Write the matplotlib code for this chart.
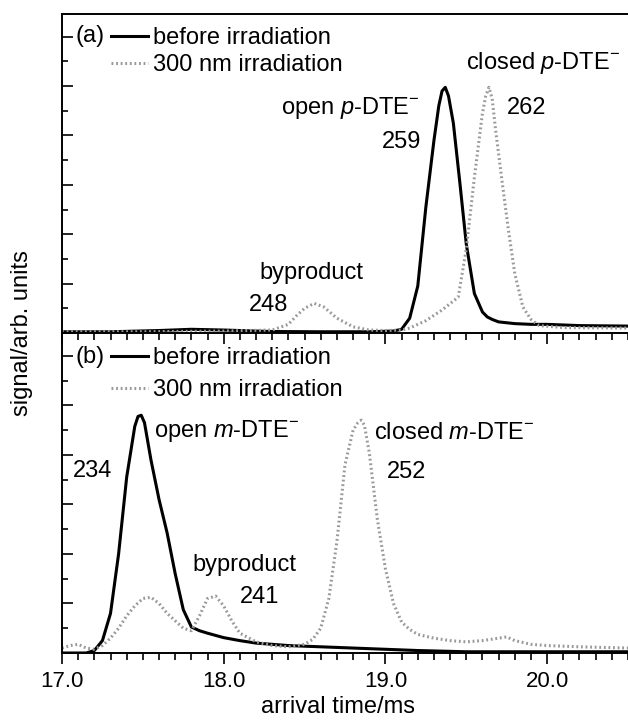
import matplotlib
matplotlib.use("Agg")
import matplotlib.pyplot as plt
from matplotlib.ticker import MultipleLocator, FormatStrFormatter

plt.rcParams['font.family'] = ['Liberation Sans', 'DejaVu Sans']
plt.rcParams['mathtext.fontset'] = 'custom'
plt.rcParams['mathtext.rm'] = 'Liberation Sans'
plt.rcParams['mathtext.it'] = 'Liberation Sans:italic'

FS = 17

# (a) p-DTE, before irradiation
t_pa = [17.0, 17.3, 17.6, 17.8, 18.0, 18.3, 18.6, 18.9, 19.05, 19.1, 19.15, 19.2, 19.25,
        19.3, 19.33, 19.35, 19.37, 19.39, 19.42, 19.46, 19.5, 19.55, 19.6, 19.63, 19.66,
        19.7, 19.8, 19.9, 20.0, 20.2, 20.5]
s_pa = [0.05, 0.05, 0.1, 0.15, 0.12, 0.06, 0.05, 0.05, 0.08, 0.15, 0.6, 1.9, 5.1,
        7.8, 9.2, 9.8, 9.95, 9.6, 8.5, 6.1, 3.6, 1.6, 0.85, 0.65, 0.55,
        0.45, 0.38, 0.35, 0.35, 0.3, 0.28]
# (a) p-DTE, 300 nm irradiation
t_pb = [17.0, 17.5, 18.0, 18.3, 18.4, 18.45, 18.5, 18.56, 18.62, 18.7, 18.8, 18.9, 19.0,
        19.1, 19.15, 19.25, 19.35, 19.45, 19.5, 19.55, 19.6, 19.62, 19.64, 19.66, 19.68,
        19.72, 19.76, 19.8, 19.85, 19.9, 19.95, 20.1, 20.5]
s_pb = [0.05, 0.05, 0.08, 0.12, 0.35, 0.7, 1.0, 1.2, 1.05, 0.6, 0.25, 0.12, 0.1,
        0.12, 0.2, 0.5, 0.93, 1.45, 3.4, 6.3, 8.9, 9.6, 9.95, 9.5, 8.3,
        6.2, 4.2, 2.4, 1.05, 0.55, 0.3, 0.22, 0.2]
# (b) m-DTE, before irradiation
t_ma = [17.0, 17.15, 17.2, 17.25, 17.3, 17.35, 17.4, 17.45, 17.47, 17.49, 17.51, 17.55, 17.6,
        17.65, 17.7, 17.75, 17.8, 17.85, 17.9, 18.0, 18.1, 18.2, 18.4, 18.6, 18.8,
        19.0, 19.2, 19.5, 20.5]
s_ma = [0.0, 0.0, 0.1, 0.5, 1.6, 4.0, 7.1, 9.15, 9.55, 9.6, 9.3, 7.8, 6.2,
        4.85, 3.2, 1.75, 1.05, 0.9, 0.8, 0.62, 0.5, 0.4, 0.3, 0.25, 0.2,
        0.15, 0.1, 0.05, 0.05]
# (b) m-DTE, 300 nm irradiation
t_mb = [17.0, 17.05, 17.1, 17.15, 17.2, 17.25, 17.3, 17.35, 17.4, 17.45, 17.5, 17.55, 17.6,
        17.65, 17.7, 17.75, 17.8, 17.85, 17.9, 17.95, 18.0, 18.05, 18.1, 18.2, 18.3,
        18.4, 18.5, 18.55, 18.6, 18.65, 18.7, 18.75, 18.8, 18.83, 18.85, 18.87, 18.9, 18.95,
        19.0, 19.05, 19.1, 19.15, 19.2, 19.3, 19.4, 19.5, 19.6, 19.7, 19.75, 19.8,
        19.9, 20.0, 20.2, 20.5]
s_mb = [0.2, 0.3, 0.35, 0.2, 0.15, 0.3, 0.6, 1.0, 1.5, 1.9, 2.2, 2.25, 2.0,
        1.6, 1.3, 1.0, 0.9, 1.5, 2.2, 2.3, 1.9, 1.3, 0.8, 0.45, 0.3,
        0.25, 0.35, 0.55, 1.0, 2.2, 4.5, 7.6, 9.0, 9.3, 9.4, 9.2, 8.1, 5.4,
        3.4, 2.0, 1.25, 0.95, 0.75, 0.6, 0.5, 0.45, 0.5, 0.6, 0.65, 0.5,
        0.35, 0.3, 0.25, 0.2]

legend_labels = ['before irradiation', '300 nm irradiation']

fig = plt.figure(figsize=(6.28, 7.23), dpi=100)
ax1 = fig.add_axes([62/628, 1-333/723, 1-62/628, 319/723])
ax2 = fig.add_axes([62/628, 1-653/723, 1-62/628, 320/723])
ax2.patch.set_alpha(0)

panels = [(ax1, t_pa, s_pa, t_pb, s_pb, '(a)', 0.958, 0.2, 0.931),
          (ax2, t_ma, s_ma, t_mb, s_mb, '(b)', 0.955, 0.42, 0.925)]
for ax, tb, sb, tg, sg, tag, ytop, lspace, ytag in panels:
    ax.plot(tb, sb, color='black', lw=2.2, label=legend_labels[0])
    ax.plot(tg, sg, color='#999999', lw=2.2, ls=(0, (0.6, 0.9)), label=legend_labels[1])
    ax.set_xlim(17.0, 20.5)
    ax.set_ylim(0, 12.92)
    ax.spines['right'].set_visible(False)
    for s in ['left', 'top', 'bottom']:
        ax.spines[s].set_linewidth(1.4)
    ax.xaxis.set_major_locator(MultipleLocator(1.0))
    ax.xaxis.set_minor_locator(MultipleLocator(0.1))
    ax.yaxis.set_major_locator(MultipleLocator(2))
    ax.yaxis.set_minor_locator(MultipleLocator(1))
    ax.tick_params(axis='x', which='both', direction='out', top=False, width=1.2)
    ax.tick_params(axis='x', which='major', length=8)
    ax.tick_params(axis='x', which='minor', length=5)
    ax.tick_params(axis='y', which='both', direction='in', labelleft=False, width=1.2)
    ax.tick_params(axis='y', which='major', length=8)
    ax.tick_params(axis='y', which='minor', length=4.5)
    leg = ax.legend(loc='upper left', bbox_to_anchor=(0.086, ytop), frameon=False,
                    fontsize=FS, handlelength=1.6, handletextpad=0.18,
                    labelspacing=lspace, borderpad=0, borderaxespad=0)
    ax.text(0.024, ytag, tag, transform=ax.transAxes, fontsize=FS, va='center', ha='left')

ax1.tick_params(axis='x', labelbottom=False)
ax2.spines['top'].set_visible(False)
ax2.xaxis.set_major_formatter(FormatStrFormatter('%.1f'))
ax2.tick_params(axis='x', labelsize=16, pad=5)

# peak annotations, panel (a)
ax1.text(19.21, 9.1, r'open $\it{p}$-DTE$^{-}$', fontsize=FS, ha='right', va='center')
ax1.text(19.22, 7.73, '259', fontsize=FS, ha='right', va='center')
ax1.text(20.45, 10.93, r'closed $\it{p}$-DTE$^{-}$', fontsize=FS, ha='right', va='center')
ax1.text(19.75, 9.1, '262', fontsize=FS, ha='left', va='center')
ax1.text(18.54, 2.43, 'byproduct', fontsize=FS, ha='center', va='center')
ax1.text(18.28, 1.13, '248', fontsize=FS, ha='center', va='center')

# peak annotations, panel (b)
ax2.text(17.57, 8.95, r'open $\it{m}$-DTE$^{-}$', fontsize=FS, ha='left', va='center')
ax2.text(17.07, 7.33, '234', fontsize=FS, ha='left', va='center')
ax2.text(18.13, 3.56, 'byproduct', fontsize=FS, ha='center', va='center')
ax2.text(18.22, 2.27, '241', fontsize=FS, ha='center', va='center')
ax2.text(18.93, 8.9, r'closed $\it{m}$-DTE$^{-}$', fontsize=FS, ha='left', va='center')
ax2.text(19.01, 7.3, '252', fontsize=FS, ha='left', va='center')

fig.text(338/628, 1-707/723, 'arrival time/ms', fontsize=FS, ha='center', va='center')
fig.text(22/628, 1-333/723, 'signal/arb. units', fontsize=FS, ha='center', va='center',
         rotation=90)

fig.savefig('out.png', dpi=100)
